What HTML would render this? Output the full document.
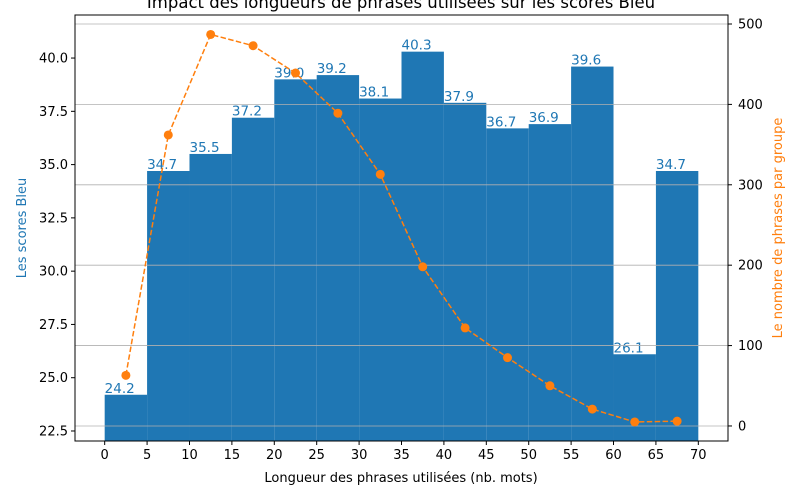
<!DOCTYPE html>
<html><head><meta charset="utf-8"><style>body{margin:0;background:#fff}svg{display:block;font-family:"DejaVu Sans","Liberation Sans",sans-serif}</style></head>
<body>
<svg id="chart" width="800" height="500" xmlns="http://www.w3.org/2000/svg"></svg>
<script>
const binStarts=[0,5,10,15,20,25,30,35,40,45,50,55,60,65];
const bleuScores=[24.2,34.7,35.5,37.2,39.0,39.2,38.1,40.3,37.9,36.7,36.9,39.6,26.1,34.7];
const groupCounts=[63,362,487,473,439,389,313,198,122,85,50,21,5,6];
const xTicks=[0,5,10,15,20,25,30,35,40,45,50,55,60,65,70];
const leftTicks=[22.5,25.0,27.5,30.0,32.5,35.0,37.5,40.0];
const rightTicks=[0,100,200,300,400,500];

const L=75,R=728,T=15,B=441;
const X=v=>L+(v+3.5)/77*(R-L);
const YL=v=>B-(v-22.03)/(42.02-22.03)*(B-T);
const YR=v=>B-(v+18.7)/(511.2+18.7)*(B-T);
const svg=document.getElementById('chart');
const NS='http://www.w3.org/2000/svg';
function mk(tag,attrs,parent){const e=document.createElementNS(NS,tag);for(const k in attrs)e.setAttribute(k,attrs[k]);(parent||svg).appendChild(e);return e;}
function txt(s,attrs){const e=mk('text',attrs);e.textContent=s;return e;}

binStarts.forEach((s,i)=>{
  const r=mk('rect',{x:X(s),y:YL(bleuScores[i]),width:X(s+5)-X(s),height:B-YL(bleuScores[i]),fill:'#1f77b4'});
  
  
  const t=txt(bleuScores[i].toFixed(1),{x:X(s),y:YL(bleuScores[i])-2,fill:'#1f77b4','font-size':13.5});
  
  
});
rightTicks.forEach(v=>{
  const g=mk('line',{x1:L,x2:R,y1:YR(v),y2:YR(v),stroke:'#b0b0b0','stroke-width':0.8});
  
  
});
const pts=binStarts.map((s,i)=>X(s+2.5)+','+YR(groupCounts[i])).join(' ');
const pl=mk('polyline',{points:pts,fill:'none',stroke:'#ff7f0e','stroke-width':1.5,'stroke-dasharray':'5.5,2.4'});


binStarts.forEach((s,i)=>{
  const c=mk('circle',{cx:X(s+2.5),cy:YR(groupCounts[i]),r:4.5,fill:'#ff7f0e'});
  
  
});
const f=mk('rect',{x:L,y:T,width:R-L,height:B-T,fill:'none',stroke:'#000','stroke-width':1});


xTicks.forEach(v=>{
  mk('line',{x1:X(v),x2:X(v),y1:B,y2:B+4,stroke:'#000'});
  const t=txt(v,{x:X(v),y:B+18,'text-anchor':'middle','font-size':13});
  
  
});
leftTicks.forEach(v=>{
  mk('line',{x1:L-4,x2:L,y1:YL(v),y2:YL(v),stroke:'#000'});
  const t=txt(v.toFixed(1),{x:L-7,y:YL(v)+4.5,'text-anchor':'end','font-size':13});
  
  
});
rightTicks.forEach(v=>{
  mk('line',{x1:R,x2:R+4,y1:YR(v),y2:YR(v),stroke:'#000'});
  const t=txt(v,{x:R+10,y:YR(v)+4.5,'font-size':13});
  
  
});
</script>
<svg style="position:absolute;left:0;top:0" width="800" height="500" xmlns="http://www.w3.org/2000/svg">
<text x="401" y="8" text-anchor="middle" font-size="16.5" font-family="DejaVu Sans,sans-serif">Impact des longueurs de phrases utilisées sur les scores Bleu</text>
<text x="401" y="482" text-anchor="middle" font-size="13" font-family="DejaVu Sans,sans-serif">Longueur des phrases utilisées (nb. mots)</text>
<text transform="translate(26,228) rotate(-90)" text-anchor="middle" font-size="13" fill="#1f77b4" font-family="DejaVu Sans,sans-serif">Les scores Bleu</text>
<text transform="translate(782,228) rotate(-90)" text-anchor="middle" font-size="13" fill="#ff7f0e" font-family="DejaVu Sans,sans-serif">Le nombre de phrases par groupe</text>
</svg>
</body></html>
